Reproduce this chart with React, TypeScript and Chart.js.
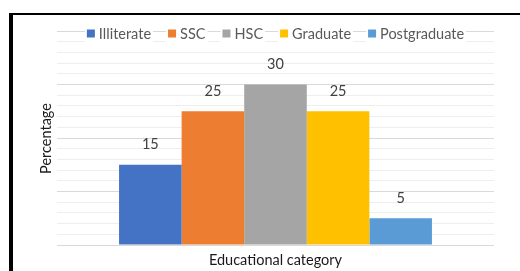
import React, { useEffect, useRef } from "react";
import { Chart, registerables } from "chart.js";

Chart.register(...registerables);

const categories = ["Educational category"];
const seriesNames = ["Illiterate", "SSC", "HSC", "Graduate", "Postgraduate"];
const seriesValues = [15, 25, 30, 25, 5];
const seriesColors = ["#4472C4", "#ED7D31", "#A5A5A5", "#FFC000", "#5B9BD5"];
const yTitle = "Percentage";
const xTitle = "Educational category";
const yMin = 0;
const yMax = 40;
const yStep = 2;

const FONT = "Lato, 'Open Sans', sans-serif";

const overlayPlugin = {
  id: "overlay",
  afterDatasetsDraw(chart: any) {
    const ctx = chart.ctx;
    const area = chart.chartArea;
    ctx.save();
    // data labels
    ctx.font = `14.5px ${FONT}`;
    ctx.fillStyle = "#404040";
    ctx.textAlign = "center";
    ctx.textBaseline = "middle";
    chart.data.datasets.forEach((ds: any, i: number) => {
      const meta = chart.getDatasetMeta(i);
      meta.data.forEach((el: any, j: number) => {
        ctx.fillText(String(ds.data[j]), el.x, el.y - 20);
      });
    });
    // legend
    ctx.font = `14.5px ${FONT}`;
    ctx.textAlign = "left";
    const box = 8;
    const gapBoxText = 4;
    const gapItems = 17;
    const widths = chart.data.datasets.map(
      (ds: any) => box + gapBoxText + ctx.measureText(ds.label).width
    );
    const total =
      widths.reduce((a: number, b: number) => a + b, 0) +
      gapItems * (widths.length - 1);
    let x = (area.left + area.right) / 2 - total / 2;
    const cy = 33.5;
    chart.data.datasets.forEach((ds: any, i: number) => {
      ctx.fillStyle = "#ffffff";
      ctx.fillRect(x - 2, cy - 9, widths[i] + 4, 18);
      ctx.fillStyle = ds.backgroundColor;
      ctx.fillRect(x, cy - 4, box, box);
      ctx.fillStyle = "#595959";
      ctx.fillText(ds.label, x + box + gapBoxText, cy + 0.5);
      x += widths[i] + gapItems;
    });
    // axis titles
    ctx.fillStyle = "#1a1a1a";
    ctx.font = `14.5px ${FONT}`;
    ctx.textAlign = "center";
    ctx.fillText(xTitle, (area.left + area.right) / 2, 260);
    ctx.translate(46, (area.top + area.bottom) / 2 + 0.5);
    ctx.rotate(-Math.PI / 2);
    ctx.fillText(yTitle, 0, 0);
    ctx.restore();
  },
};

export default function App() {
  const ref = useRef<HTMLCanvasElement>(null);
  useEffect(() => {
    if (!ref.current) return;
    const chart = new Chart(ref.current, {
      type: "bar",
      data: {
        labels: categories,
        datasets: seriesNames.map((name, i) => ({
          label: name,
          data: [seriesValues[i]],
          backgroundColor: seriesColors[i],
          borderWidth: 0,
          categoryPercentage: 0.716,
          barPercentage: 1,
        })),
      },
      options: {
        animation: false,
        responsive: false,
        maintainAspectRatio: false,
        devicePixelRatio: 1,
        layout: { padding: { left: 57, right: 26, top: 31, bottom: 26 } },
        plugins: {
          legend: { display: false },
          tooltip: { enabled: false },
        },
        scales: {
          x: {
            display: false,
          },
          y: {
            min: yMin,
            max: yMax,
            ticks: { display: false, stepSize: yStep },
            border: { display: false },
            grid: {
              drawTicks: false,
              lineWidth: 1,
              color: (c: any) =>
                c.tick && c.tick.value % 10 === 0 ? "#d9d9d9" : "#eeeeee",
            },
          },
        },
      },
      plugins: [overlayPlugin],
    });
    return () => chart.destroy();
  }, []);
  return (
    <div
      style={{
        position: "fixed",
        left: 0,
        top: 0,
        width: 520,
        height: 271,
        background: "#ffffff",
        overflow: "hidden",
      }}
    >
      <canvas
        ref={ref}
        width={520}
        height={271}
        style={{ position: "absolute", left: 0, top: 0, width: 520, height: 271 }}
      />
      <div
        style={{
          position: "absolute",
          left: 9,
          top: 13,
          width: 600,
          height: 400,
          borderLeft: "4px solid #000",
          borderTop: "2px solid #000",
          pointerEvents: "none",
        }}
      />
    </div>
  );
}
